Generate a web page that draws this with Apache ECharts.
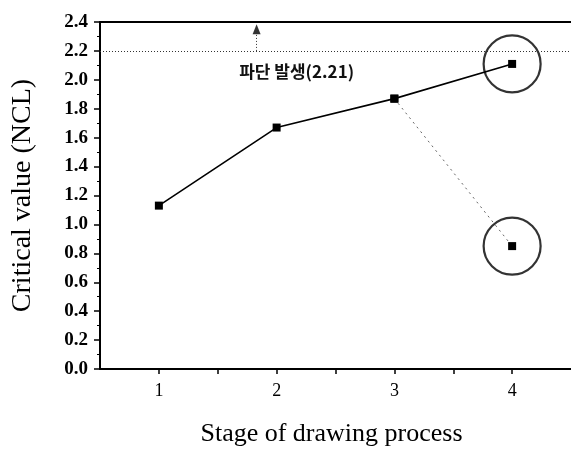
<!DOCTYPE html>
<html>
<head>
<meta charset="utf-8">
<script src="https://cdn.jsdelivr.net/npm/echarts@6/dist/echarts.min.js"></script>
<style>
html,body{margin:0;padding:0;background:#fff;}
#c{width:571px;height:452px;}
</style>
</head>
<body>
<div id="c"></div>
<script>
// Data
var stages = [1, 2, 3, 4];
var criticalValues = [1.13, 1.67, 1.87, 2.11];
var branchStages = [3, 4];
var branchValues = [1.87, 0.85];
var circledStages = [4, 4];
var circledValues = [2.11, 0.85];
var fractureLevel = 2.2;
var fractureLabel = '파단 발생(2.21)';
var arrowX = 1.83;
var arrowTop = 2.35;
var noteX = 2.17;
var noteY = 2.06;
var xTitle = 'Stage of drawing process';
var yTitle = 'Critical value (NCL)';

function pairs(xs, ys) { return xs.map(function (x, i) { return [x, ys[i]]; }); }

var serif = '"Liberation Serif", "Times New Roman", serif';
var chart = echarts.init(document.getElementById('c'), null, {renderer: 'canvas'});
chart.setOption({
  animation: false,
  backgroundColor: '#fff',
  grid: {left: 100, right: -3, top: 22, bottom: 79, containLabel: false},
  xAxis: [{
    type: 'value', min: 0.5, max: 4.5, interval: 0.5,
    name: xTitle, nameLocation: 'middle', nameGap: 52,
    nameTextStyle: {fontFamily: serif, fontSize: 26, color: '#000', padding: [0, 8, 0, 0]},
    axisLine: {show: true, lineStyle: {color: '#000', width: 2}},
    axisTick: {show: true, inside: false, length: 5, lineStyle: {color: '#000', width: 1.5}},
    axisLabel: {
      fontFamily: serif, fontSize: 18, color: '#000', margin: 13,
      formatter: function (v) { return Math.abs(v - Math.round(v)) < 1e-6 ? String(Math.round(v)) : ''; },
      showMinLabel: false, showMaxLabel: false
    },
    splitLine: {show: false}
  }, {
    type: 'value', min: 0.5, max: 4.5, position: 'top',
    axisLine: {show: true, onZero: false, lineStyle: {color: '#000', width: 2}},
    axisTick: {show: false}, axisLabel: {show: false}, splitLine: {show: false}
  }],
  yAxis: {
    type: 'value', min: 0, max: 2.4, interval: 0.2,
    name: yTitle, nameLocation: 'middle', nameGap: 63,
    nameTextStyle: {fontFamily: serif, fontSize: 28, color: '#000'},
    axisLine: {show: true, lineStyle: {color: '#000', width: 2}},
    axisTick: {show: true, inside: false, length: 6, lineStyle: {color: '#000', width: 1.5}},
    minorTick: {show: true, splitNumber: 2, length: 3, lineStyle: {color: '#000', width: 1}},
    axisLabel: {
      fontFamily: serif, fontSize: 19, fontWeight: 'bold', color: '#000', margin: 12,
      formatter: function (v) { return v.toFixed(1); }
    },
    splitLine: {show: false}
  },
  series: [{
    type: 'line',
    data: pairs(branchStages, branchValues),
    symbol: 'rect', symbolSize: 8,
    itemStyle: {color: '#000'},
    lineStyle: {color: '#666', width: 1, type: [2, 4]},
    z: 2
  }, {
    type: 'scatter',
    data: pairs(circledStages, circledValues),
    symbol: 'circle', symbolSize: 57,
    itemStyle: {color: 'rgba(0,0,0,0)', borderColor: '#000', borderWidth: 2.2},
    silent: true,
    z: 1
  }, {
    type: 'line',
    data: pairs(stages, criticalValues),
    symbol: 'rect', symbolSize: 8,
    itemStyle: {color: '#000'},
    lineStyle: {color: '#000', width: 1.6},
    z: 3,
    markLine: {
      silent: true,
      animation: false,
      label: {show: false},
      data: [
        [{coord: [0.5, fractureLevel], symbol: 'none'}, {coord: [4.5, fractureLevel], symbol: 'none'}],
        [{coord: [arrowX, fractureLevel], symbol: 'none'}, {coord: [arrowX, arrowTop], symbol: 'triangle', symbolSize: [8, 10]}]
      ],
      lineStyle: {color: '#333', width: 1, type: [1, 2]},
      itemStyle: {color: '#000'}
    },
    markPoint: {
      silent: true,
      symbol: 'circle', symbolSize: 1,
      itemStyle: {color: 'rgba(0,0,0,0)'},
      data: [{coord: [noteX, noteY], value: fractureLabel}],
      label: {
        show: true, position: 'inside', formatter: fractureLabel,
        fontFamily: '"Noto Sans CJK KR", sans-serif', fontSize: 17, fontWeight: 'bold', color: '#111'
      }
    }
  }]
});
</script>
</body>
</html>
